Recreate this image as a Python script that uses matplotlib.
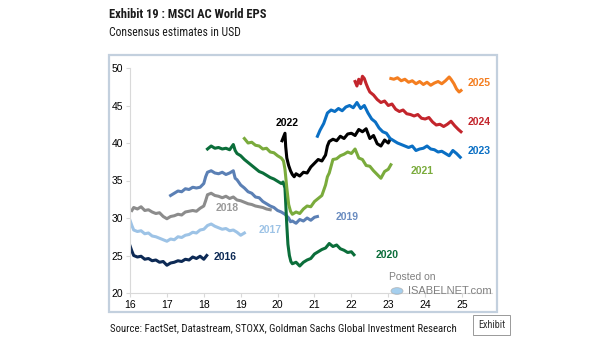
import matplotlib
matplotlib.use("Agg")
import matplotlib.pyplot as plt
from matplotlib import font_manager
from matplotlib.patches import Rectangle, Circle

# consensus EPS estimates per calendar year (x = year since 2000, y = USD)
x2016 = [16.0, 16.05, 16.1, 16.2, 16.3, 16.4, 16.5, 16.6, 16.7, 16.8, 16.9, 17.0, 17.1, 17.2, 17.3, 17.4, 17.5, 17.6, 17.7, 17.8, 17.9, 18.0, 18.08]
y2016 = [26.3, 25.6, 25.0, 24.8, 24.9, 24.5, 24.6, 24.3, 24.4, 24.1, 24.2, 23.7, 24.0, 24.1, 24.3, 24.2, 24.5, 24.4, 24.8, 24.6, 24.9, 24.5, 25.0]

x2017 = [16.0, 16.05, 16.1, 16.2, 16.3, 16.4, 16.5, 16.6, 16.7, 16.8, 16.9, 17.0, 17.1, 17.2, 17.3, 17.4, 17.5, 17.6, 17.7, 17.8, 17.9, 18.0, 18.1, 18.2, 18.3, 18.4, 18.5, 18.6, 18.7, 18.8, 18.9, 19.0, 19.1]
y2017 = [29.7, 29.0, 28.4, 28.2, 28.3, 27.9, 28.0, 27.6, 27.5, 27.3, 27.1, 26.9, 27.2, 27.1, 27.5, 27.4, 27.7, 27.8, 28.1, 28.0, 28.4, 28.5, 29.0, 29.2, 28.9, 28.7, 28.5, 28.6, 28.3, 28.4, 28.1, 27.7, 28.0]

x2018 = [16.05, 16.1, 16.2, 16.3, 16.4, 16.5, 16.6, 16.7, 16.8, 16.9, 17.0, 17.1, 17.2, 17.3, 17.4, 17.5, 17.6, 17.7, 17.8, 17.9, 18.0, 18.05, 18.1, 18.2, 18.3, 18.4, 18.5, 18.6, 18.7, 18.8, 18.9, 19.0, 19.1, 19.2, 19.3, 19.4, 19.5, 19.6, 19.7, 19.8]
y2018 = [31.0, 31.4, 31.2, 31.5, 31.0, 31.1, 30.8, 30.6, 30.7, 30.2, 29.9, 30.2, 30.3, 30.5, 30.4, 30.8, 30.9, 31.0, 30.9, 31.3, 31.6, 32.3, 33.1, 33.3, 33.0, 32.9, 32.7, 32.9, 32.6, 32.8, 32.4, 32.3, 32.1, 31.9, 31.8, 31.6, 31.5, 31.4, 31.2, 31.1]

x2019 = [17.1, 17.2, 17.3, 17.4, 17.5, 17.6, 17.7, 17.8, 17.9, 18.0, 18.05, 18.1, 18.2, 18.3, 18.4, 18.5, 18.6, 18.7, 18.8, 18.85, 18.9, 19.0, 19.1, 19.2, 19.3, 19.4, 19.5, 19.6, 19.7, 19.8, 19.9, 20.0, 20.1, 20.2, 20.3, 20.35, 20.4, 20.5, 20.6, 20.7, 20.8, 20.9, 21.0, 21.08]
y2019 = [33.0, 33.3, 33.6, 33.5, 33.9, 33.8, 34.1, 34.0, 34.1, 34.6, 35.5, 36.1, 36.3, 36.0, 35.9, 36.1, 35.8, 36.0, 36.3, 35.3, 35.1, 34.4, 34.0, 33.5, 33.3, 32.8, 32.7, 32.2, 31.9, 31.6, 31.4, 31.0, 30.8, 30.5, 30.0, 29.5, 29.6, 29.3, 29.8, 29.6, 30.0, 29.7, 30.1, 30.2]

x2020 = [18.1, 18.2, 18.3, 18.4, 18.5, 18.6, 18.7, 18.8, 18.85, 18.9, 19.0, 19.1, 19.2, 19.3, 19.4, 19.5, 19.6, 19.7, 19.8, 19.9, 20.0, 20.1, 20.15, 20.2, 20.22, 20.25, 20.28, 20.32, 20.36, 20.4, 20.5, 20.6, 20.7, 20.8, 20.9, 21.0, 21.1, 21.2, 21.3, 21.4, 21.5, 21.6, 21.7, 21.8, 21.9, 22.0, 22.07]
y2020 = [39.2, 39.6, 39.3, 39.4, 39.2, 39.3, 39.1, 39.8, 39.0, 38.6, 38.3, 37.8, 37.4, 37.0, 36.6, 36.2, 36.0, 35.7, 35.4, 35.2, 34.9, 34.6, 34.8, 34.0, 32.0, 29.0, 26.5, 25.0, 24.2, 23.9, 24.1, 23.6, 24.1, 24.4, 24.6, 25.2, 25.5, 25.8, 26.0, 26.6, 26.2, 26.4, 25.9, 25.7, 25.4, 25.5, 25.1]

x2021 = [19.1, 19.2, 19.3, 19.4, 19.5, 19.6, 19.7, 19.8, 19.9, 20.0, 20.1, 20.16, 20.2, 20.25, 20.3, 20.35, 20.4, 20.5, 20.6, 20.7, 20.8, 20.9, 21.0, 21.1, 21.2, 21.3, 21.35, 21.4, 21.5, 21.6, 21.7, 21.8, 21.9, 22.0, 22.1, 22.2, 22.3, 22.4, 22.5, 22.6, 22.7, 22.8, 22.9, 23.0, 23.07]
y2021 = [40.6, 40.0, 40.1, 39.7, 39.6, 39.2, 39.3, 38.8, 38.7, 38.3, 38.0, 37.6, 36.5, 34.0, 31.8, 30.9, 30.5, 30.8, 30.6, 31.2, 31.6, 31.5, 32.2, 32.6, 33.0, 34.4, 35.5, 36.0, 37.8, 37.9, 38.3, 38.5, 38.8, 38.6, 39.2, 38.0, 37.8, 37.0, 36.9, 36.3, 35.8, 35.3, 36.2, 36.5, 37.1]

x2022 = [20.12, 20.2, 20.22, 20.25, 20.3, 20.35, 20.4, 20.45, 20.5, 20.6, 20.7, 20.8, 20.9, 21.0, 21.1, 21.2, 21.3, 21.35, 21.4, 21.5, 21.6, 21.7, 21.8, 21.9, 22.0, 22.1, 22.2, 22.3, 22.4, 22.5, 22.6, 22.7, 22.8, 22.9, 23.0, 23.05]
y2022 = [40.3, 41.3, 39.5, 38.0, 37.0, 36.3, 35.8, 35.5, 35.9, 35.6, 36.1, 36.0, 36.8, 37.3, 37.8, 37.6, 38.4, 39.6, 40.2, 40.5, 40.3, 40.9, 40.6, 41.2, 41.3, 41.0, 41.8, 41.5, 41.9, 40.6, 41.0, 39.9, 39.6, 40.4, 40.0, 40.5]

x2023 = [21.08, 21.15, 21.25, 21.35, 21.45, 21.55, 21.65, 21.75, 21.85, 21.95, 22.05, 22.15, 22.25, 22.35, 22.45, 22.55, 22.65, 22.75, 22.85, 22.95, 23.05, 23.15, 23.25, 23.35, 23.45, 23.55, 23.65, 23.75, 23.85, 23.95, 24.05, 24.15, 24.25, 24.35, 24.45, 24.55, 24.65, 24.75, 24.85, 24.95]
y2023 = [40.9, 41.7, 42.6, 44.0, 44.4, 44.2, 44.6, 44.3, 44.8, 45.0, 44.7, 45.4, 44.6, 45.0, 44.0, 43.2, 42.8, 42.0, 41.5, 41.3, 40.6, 40.3, 40.0, 39.8, 39.6, 39.4, 39.6, 39.0, 39.2, 39.3, 39.6, 39.2, 39.1, 38.8, 38.9, 38.6, 38.3, 39.0, 38.6, 38.1]

x2024 = [22.1, 22.15, 22.2, 22.25, 22.3, 22.35, 22.4, 22.45, 22.5, 22.6, 22.7, 22.8, 22.9, 23.0, 23.1, 23.2, 23.3, 23.4, 23.5, 23.6, 23.7, 23.8, 23.9, 24.0, 24.1, 24.2, 24.3, 24.4, 24.5, 24.6, 24.7, 24.8, 24.9, 24.97]
y2024 = [48.2, 47.6, 48.5, 47.9, 48.9, 48.6, 47.9, 47.3, 46.8, 46.4, 45.8, 45.4, 45.6, 45.0, 45.2, 44.5, 44.2, 44.4, 43.9, 43.8, 43.6, 43.8, 43.3, 43.2, 43.4, 42.8, 42.4, 42.5, 42.2, 42.5, 42.9, 42.3, 41.8, 41.5]

x2025 = [23.07, 23.15, 23.25, 23.35, 23.45, 23.55, 23.65, 23.75, 23.85, 23.95, 24.05, 24.15, 24.25, 24.35, 24.45, 24.55, 24.65, 24.7, 24.78, 24.85, 24.92, 24.97]
y2025 = [48.6, 48.5, 48.7, 48.3, 48.5, 48.1, 48.3, 47.9, 48.2, 47.8, 48.1, 47.7, 48.0, 48.2, 47.9, 48.3, 48.8, 48.5, 47.9, 47.2, 46.8, 47.0]

# series label positions (year, value)
labels = ["2016", "2017", "2018", "2019", "2020", "2021", "2022", "2023", "2024", "2025"]
label_x = [18.58, 19.79, 18.63, 21.88, 22.96, 23.92, 20.26, 25.46, 25.46, 25.46]
label_y = [24.8, 28.4, 31.3, 30.1, 25.1, 36.3, 42.7, 38.9, 42.8, 48.0]

colors = ["#0d2a55", "#9dc3e6", "#8c8c8c", "#5b80b5", "#0b6e3a",
          "#7aab3c", "#000000", "#0a6fc4", "#c3252c", "#f47e20"]
label_colors = ["#0d2a55", "#9dc3e6", "#9a9a9a", "#6a8cc0", "#0b6e3a",
                "#7aab3c", "#000000", "#0a6fc4", "#c3252c", "#f47e20"]

series = [(x2016, y2016), (x2017, y2017), (x2018, y2018), (x2019, y2019), (x2020, y2020),
          (x2021, y2021), (x2022, y2022), (x2023, y2023), (x2024, y2024), (x2025, y2025)]

plt.rcParams['font.family'] = ['Liberation Sans', 'DejaVu Sans']

# pick a narrow face for the header/footer if one is installed
names = {f.name for f in font_manager.fontManager.ttflist}
cond = next((n for n in ['Liberation Sans Narrow', 'Roboto Condensed', 'Open Sans Condensed',
                         'DejaVu Sans Condensed', 'Noto Sans Condensed', 'Roboto']
             if n in names), 'DejaVu Sans')

W, H = 605, 341
fig = plt.figure(figsize=(W / 100, H / 100), dpi=100)

# outer frame around the chart
fig.add_artist(Rectangle((109 / W, 1 - 312 / H), (497 - 109) / W, (312 - 55) / H,
                         transform=fig.transFigure, fill=False, edgecolor="#c3d0de", lw=1.6))

ax = fig.add_axes([130 / W, 1 - 293 / H, (491.6 - 130) / W, (293 - 68) / H])
for (xs, ys), c in zip(series, colors):
    ax.plot(xs, ys, color=c, lw=2.2, solid_joinstyle="round")
for t, lx, ly, c in zip(labels, label_x, label_y, label_colors):
    ax.text(lx, ly, t, color=c, fontsize=7.5, fontweight="bold", ha="center", va="center")

ax.set_xlim(16, 25.8)
ax.set_ylim(20, 50)
ax.set_xticks(range(16, 26))
ax.set_yticks(range(20, 51, 5))
ax.spines["top"].set_visible(False)
ax.spines["right"].set_visible(False)
ax.spines["left"].set_color("#d9d9d9")
ax.spines["bottom"].set_color("#d9d9d9")
ax.tick_params(colors="#d9d9d9", labelcolor="black", labelsize=7.5, length=3, pad=2)

# watermark
fig.text(412 / W, 1 - 277 / H, "Posted on", color="#808080", fontsize=7.5, ha="center", va="center")
fig.text(408 / W, 1 - 291 / H, "ISABELNET.com", color="#808080", fontsize=8, ha="left", va="center")
fig.add_artist(Circle((397 / W, 1 - 291 / H), 6 / W, transform=fig.transFigure,
                      facecolor="#8fc3ea", edgecolor="#b0b0b0", lw=0.6, alpha=0.8))

title = fig.text(109 / W, 1 - 15 / H, "Exhibit 19 : MSCI AC World EPS", family=cond,
                 fontsize=10.5, fontweight="bold", color="#1a1a1a", va="center")
sub = fig.text(109 / W, 1 - 33 / H, "Consensus estimates in USD", family=cond,
               fontsize=9.5, color="#1a1a1a", va="center")
src = fig.text(110 / W, 1 - 328 / H,
               "Source: FactSet, Datastream, STOXX, Goldman Sachs Global Investment Research",
               family=cond, fontsize=9, color="#1a1a1a", va="center")
exh = fig.text(478 / W, 1 - 325 / H, "Exhibit", family=cond, fontsize=7.5, color="#333333", va="center",
               bbox=dict(boxstyle="square,pad=0.45", facecolor="white", edgecolor="#999999", lw=0.7))

# scale header/footer text so it spans the same width as in the original
fig.canvas.draw()
r = fig.canvas.get_renderer()
for t, target in [(title, 159), (sub, 131), (src, 346), (exh, 27)]:
    w = t.get_window_extent(r).width
    t.set_fontsize(t.get_fontsize() * target / w)

fig.savefig("out.png", dpi=100)
